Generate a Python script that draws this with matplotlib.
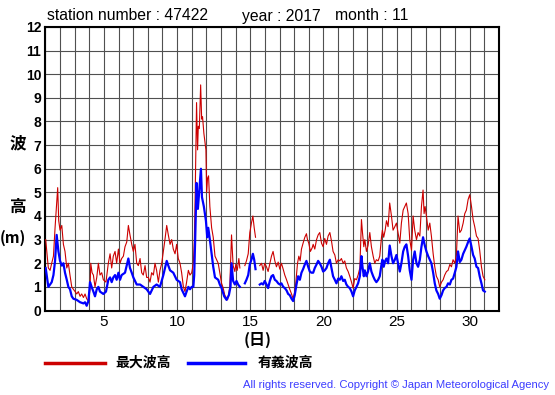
import numpy as np
import matplotlib
matplotlib.use('Agg')
import matplotlib.pyplot as plt

nan = float('nan')

# header info
station = '47422'
year = '2017'
month = '11'

# 最大波高 (max wave height), day of month vs metres; nan = missing data
max_day = [1.02, 1.20, 1.32, 1.43, 1.55, 1.66, 1.77, 1.84, 1.91, 2.00, 2.12, 2.23, 2.34, 2.46,
           2.57, 2.68, 2.80, 2.91, 3.03, 3.14, 3.25, 3.37, 3.48, 3.60, 3.71, 3.82, 3.94, 4.05,
           4.10, 4.19, 4.28, 4.39, 4.51, 4.62, 4.73, 4.85, 4.96, 5.14, 5.30, 5.42, 5.53, 5.64,
           5.76, 5.87, 5.99, 6.10, 6.21, 6.33, 6.44, 6.56, 6.67, 6.78, 6.90, 7.01, 7.12, 7.24,
           7.35, 7.47, 7.58, 7.69, 7.81, 7.92, 8.04, 8.15, 8.26, 8.38, 8.49, 8.60, 8.72, 8.83,
           8.95, 9.06, 9.17, 9.29, 9.40, 9.52, 9.63, 9.74, 9.86, 9.97, 10.08, 10.20, 10.31,
           10.43, 10.54, 10.65, 10.77, 10.88, 11.00, 11.11, 11.18, 11.24, 11.33, 11.40, 11.45,
           11.52, 11.61, 11.68, 11.74, 11.83, 11.93, 11.97, 12.02, 12.08, 12.15, 12.24, 12.36,
           12.47, 12.59, 12.81, 12.92, 13.04, 13.15, 13.26, 13.45, 13.54, 13.60, 13.72, 13.83,
           13.95, 14.01, 14.11, 14.22, 14.29, 14.45, 14.63, 14.74, 14.86, 14.97, 15.08, 15.18,
           15.27, 15.36, 15.50, 15.65, 15.77, 15.88, 15.99, 16.11, 16.22, 16.34, 16.45, 16.56,
           16.68, 16.79, 16.91, 17.02, 17.13, 17.25, 17.36, 17.48, 17.59, 17.70, 17.82, 17.93,
           18.04, 18.11, 18.23, 18.32, 18.41, 18.50, 18.61, 18.73, 18.84, 18.91, 19.00, 19.11,
           19.23, 19.30, 19.41, 19.53, 19.64, 19.75, 19.87, 19.98, 20.09, 20.21, 20.32, 20.44,
           20.55, 20.66, 20.78, 20.89, 21.01, 21.12, 21.23, 21.35, 21.46, 21.57, 21.69, 21.80,
           21.92, 22.03, 22.14, 22.26, 22.37, 22.49, 22.60, 22.67, 22.76, 22.83, 22.94, 23.05,
           23.17, 23.28, 23.40, 23.51, 23.62, 23.74, 23.85, 23.97, 24.03, 24.12, 24.22, 24.31,
           24.42, 24.53, 24.65, 24.76, 24.88, 24.99, 25.10, 25.22, 25.33, 25.45, 25.56, 25.67,
           25.79, 25.90, 26.02, 26.13, 26.24, 26.36, 26.47, 26.59, 26.70, 26.81, 26.88, 26.95,
           27.04, 27.16, 27.27, 27.38, 27.50, 27.61, 27.72, 27.84, 27.95, 28.07, 28.18, 28.29,
           28.41, 28.52, 28.64, 28.75, 28.86, 28.98, 29.09, 29.20, 29.32, 29.43, 29.55, 29.66,
           29.77, 29.89, 30.00, 30.12, 30.23, 30.34, 30.46, 30.57, 30.68, 30.80, 30.91, 31.03]
max_hgt = [3.0, 1.8, 1.7, 2.0, 2.3, 3.5, 4.5, 5.2, 3.8, 3.4, 3.6, 2.8, 2.5, 1.8,
           2.0, 1.5, 1.0, 0.9, 0.8, 0.7, 0.8, 0.6, 0.7, 0.55, 0.7, 0.5, 0.4, 0.9,
           2.0, 1.6, 1.5, 1.0, 1.4, 2.0, 1.5, 1.6, 1.3, 1.2, 2.0, 2.4, 1.8, 2.3,
           2.5, 2.0, 2.6, 2.0, 2.2, 2.3, 2.7, 2.9, 3.6, 3.2, 2.8, 2.5, 2.8, 2.0,
           1.9, 2.2, 1.6, 1.5, 1.9, 1.4, 1.4, 1.2, 1.6, 1.5, 2.0, 1.7, 1.2, 1.7,
           2.0, 2.5, 3.0, 3.6, 3.2, 2.8, 3.0, 2.6, 2.4, 2.8, 2.2, 2.0, 1.6,
           1.0, 0.8, 1.2, 1.7, 1.5, 1.6, 2.0, 3.0, 5.0, 8.8, 6.8, 7.8,
           7.7, 9.55, 8.1, 8.2, 7.5, 7.0, 6.8, 5.0, 5.6, 5.7, 4.4, 3.5,
           3.1, 2.3, 2.0, 1.6, 1.15, 0.95, 0.65, 0.45, 0.75, 1.0, 3.2, 1.9,
           1.65, 1.95, 1.7, 2.2, 1.8, nan, 1.9, 2.1, 2.4, 3.3, 3.7, 4.0,
           3.5, 3.1, nan, 1.9, 2.0, 1.7, 2.0, 1.85, 1.65, 2.0, 2.3, 2.5,
           2.1, 1.85, 2.05, 1.75, 2.0, 1.75, 1.5, 1.3, 1.1, 0.9, 0.7, 0.5,
           0.8, 1.15, 2.0, 2.3, 2.1, 2.6, 2.85, 3.1, 3.25, 3.0, 2.85, 2.5,
           2.65, 2.8, 2.6, 3.0, 3.2, 3.3, 2.85, 2.7, 3.05, 2.8, 3.15, 3.3,
           2.95, 2.5, 2.35, 2.0, 2.15, 2.1, 2.2, 2.0, 2.1, 1.8, 1.65, 1.45,
           1.2, 0.95, 1.35, 1.3, 1.5, 1.8, 3.85, 3.3, 2.7, 3.0, 2.5, 2.75,
           3.3, 2.7, 2.3, 2.0, 2.15, 2.1, 2.3, 3.1, 3.4, 3.1, 3.4, 3.8,
           3.55, 4.55, 4.0, 3.4, 3.55, 3.7, 3.3, 2.85, 3.7, 4.25, 4.4, 4.55,
           4.1, 3.0, 2.55, 4.0, 3.4, 3.0, 3.3, 3.15, 4.4, 5.1, 4.1, 4.4,
           4.0, 3.4, 3.7, 3.15, 2.4, 1.85, 1.45, 1.3, 1.0, 1.2, 1.3, 1.5,
           1.65, 1.7, 1.95, 1.85, 2.15, 2.0, 2.35, 4.0, 3.3, 3.4, 3.7, 4.1,
           4.25, 4.7, 4.9, 4.4, 3.85, 3.55, 3.15, 3.05, 2.55, 1.85, 1.45, 1.3]

# 有義波高 (significant wave height)
sig_day = [1.02, 1.20, 1.32, 1.43, 1.55, 1.66, 1.77, 1.89, 2.00, 2.12, 2.23, 2.34, 2.46, 2.57,
           2.68, 2.80, 2.91, 3.14, 3.37, 3.60, 3.71, 3.82, 3.94, 4.05, 4.16, 4.28, 4.39, 4.51,
           4.62, 4.73, 4.96, 5.14, 5.30, 5.42, 5.53, 5.64, 5.76, 5.87, 5.99, 6.10, 6.21, 6.44,
           6.67, 6.78, 6.90, 7.01, 7.24, 7.47, 7.69, 7.92, 8.15, 8.38, 8.60, 8.83, 9.06, 9.29,
           9.40, 9.52, 9.74, 9.97, 10.20, 10.31, 10.54, 10.65, 10.77, 10.88, 11.00, 11.11,
           11.17, 11.24, 11.33, 11.42, 11.52, 11.63, 11.70, 11.83, 11.97, 12.06, 12.13, 12.24,
           12.36, 12.47, 12.59, 12.81, 12.92, 13.04, 13.22, 13.38, 13.54, 13.65, 13.72, 13.83,
           13.95, 14.06, 14.17, 14.29, 14.45, 14.63, 14.74, 14.86, 14.97, 15.08, 15.18, 15.27,
           15.36, 15.50, 15.65, 15.77, 15.88, 15.99, 16.11, 16.22, 16.34, 16.45, 16.56, 16.68,
           16.79, 16.91, 17.02, 17.13, 17.25, 17.36, 17.48, 17.59, 17.70, 17.82, 17.93, 18.04,
           18.16, 18.27, 18.39, 18.50, 18.61, 18.73, 18.84, 18.96, 19.07, 19.18, 19.30, 19.41,
           19.53, 19.64, 19.75, 19.87, 19.98, 20.09, 20.21, 20.32, 20.44, 20.55, 20.66, 20.78,
           20.89, 21.01, 21.12, 21.23, 21.35, 21.46, 21.57, 21.69, 21.80, 21.92, 22.03, 22.14,
           22.26, 22.37, 22.49, 22.60, 22.67, 22.76, 22.83, 22.94, 23.05, 23.17, 23.28, 23.40,
           23.51, 23.62, 23.74, 23.85, 23.97, 24.03, 24.12, 24.22, 24.31, 24.42, 24.53, 24.65,
           24.76, 24.88, 24.99, 25.10, 25.22, 25.33, 25.45, 25.56, 25.67, 25.79, 25.90, 26.02,
           26.13, 26.24, 26.36, 26.47, 26.59, 26.70, 26.81, 26.93, 27.04, 27.16, 27.27, 27.38,
           27.50, 27.61, 27.72, 27.84, 27.95, 28.07, 28.18, 28.29, 28.41, 28.52, 28.64, 28.75,
           28.86, 28.98, 29.09, 29.20, 29.32, 29.43, 29.55, 29.66, 29.77, 29.89, 30.00, 30.12,
           30.23, 30.34, 30.46, 30.57, 30.68, 30.80, 30.91, 31.03]
sig_hgt = [1.8, 1.0, 1.1, 1.2, 1.5, 2.1, 3.2, 2.5, 2.1, 1.9, 2.0, 1.6, 1.3, 1.0,
           0.9, 0.6, 0.5, 0.45, 0.35, 0.3, 0.35, 0.2, 0.4, 1.2, 1.0, 0.8, 0.6, 0.9,
           1.0, 0.8, 0.7, 0.8, 1.3, 1.4, 1.2, 1.4, 1.5, 1.3, 1.6, 1.3, 1.5, 1.6,
           2.2, 1.8, 1.6, 1.4, 1.1, 1.1, 1.0, 0.9, 0.7, 1.0, 1.1, 1.0, 1.5, 2.1,
           1.9, 1.7, 1.6, 1.3, 1.2, 0.9, 0.6, 0.8, 1.0, 0.9, 1.0, 1.0,
           1.5, 3.1, 5.4, 4.3, 5.1, 6.0, 4.8, 4.4, 3.8, 3.1, 3.5, 3.0,
           2.4, 1.85, 1.4, 1.3, 1.1, 0.95, 0.6, 0.45, 0.65, 1.0, 2.0, 1.25,
           1.1, 1.25, 1.1, 1.0, nan, 1.15, 1.3, 1.5, 1.95, 2.15, 2.4, 2.15,
           1.75, nan, 1.1, 1.15, 1.1, 1.25, 1.1, 0.95, 1.25, 1.45, 1.5, 1.3,
           1.25, 1.15, 1.1, 1.15, 1.0, 0.95, 0.85, 0.7, 0.65, 0.5, 0.4, 0.65,
           1.1, 1.45, 1.3, 1.6, 1.75, 1.95, 2.1, 1.85, 1.65, 1.6, 1.6, 1.8,
           1.95, 2.1, 2.0, 1.85, 1.65, 1.7, 1.8, 2.0, 2.15, 1.8, 1.45, 1.3,
           1.15, 1.35, 1.3, 1.45, 1.25, 1.3, 1.1, 1.0, 0.95, 0.8, 0.6, 0.85,
           1.0, 1.15, 1.45, 2.3, 1.85, 1.45, 1.7, 1.45, 1.65, 2.0, 1.65, 1.45,
           1.3, 1.2, 1.3, 1.45, 1.95, 2.15, 1.85, 2.1, 2.2, 2.0, 2.75, 2.3,
           2.0, 2.15, 2.35, 2.0, 1.65, 2.0, 2.5, 2.7, 2.8, 2.3, 1.7, 1.3,
           2.15, 2.5, 2.0, 1.85, 2.15, 2.7, 3.1, 2.75, 2.5, 2.3, 2.15, 2.0,
           1.6, 1.15, 0.85, 0.7, 0.5, 0.65, 0.85, 0.95, 1.0, 1.15, 1.1, 1.3,
           1.35, 1.6, 1.85, 2.5, 2.05, 2.15, 2.4, 2.55, 2.7, 2.9, 3.05, 2.7,
           2.35, 2.2, 1.85, 1.8, 1.45, 1.15, 0.85, 0.8]

yticks = list(range(0, 13))
xgrid_days = list(range(1, 33))
xlabel_days = [5, 10, 15, 20, 25, 30]

W, H = 555, 395
fig = plt.figure(figsize=(W / 100, H / 100), dpi=100)
ax = fig.add_axes([45.4 / W, 1 - 310.5 / H, (499 - 45.4) / W, (310.5 - 27) / H])

ax.plot(np.array(max_day), np.array(max_hgt), color='#cc0000', lw=0.8, zorder=3)
ax.plot(np.array(sig_day), np.array(sig_hgt), color='#0000ff', lw=1.6, zorder=4)

ax.set_xlim(1, 32)
ax.set_ylim(0, 12)
ax.set_xticks(xgrid_days)
ax.set_xticklabels([str(d) if d in xlabel_days else '' for d in xgrid_days],
                   fontsize=11, family='Liberation Sans')
ax.set_yticks(yticks)
ax.set_yticklabels([str(v) for v in yticks], fontsize=10, fontweight='bold',
                   family='Liberation Sans')
ax.tick_params(length=0, pad=3)
ax.grid(True, color='#505050', lw=0.8)
for s in ax.spines.values():
    s.set_linewidth(1.5)
    s.set_color('black')


def px(x, y):
    return x / W, 1 - y / H


cjk = ['Noto Sans CJK JP', 'DejaVu Sans']

# header line
fig.text(*px(47, 16), f'station number : {station}', fontsize=11.3,
         family='Liberation Sans', va='center')
fig.text(*px(242, 16), f'year : {year}', fontsize=11.3, family='Liberation Sans', va='center')
fig.text(*px(335, 16), f'month : {month}', fontsize=11.3, family='Liberation Sans', va='center')

# vertical axis label
fig.text(*px(18, 143), '波', fontsize=12, fontweight='bold', family=cjk, ha='center', va='center')
fig.text(*px(18, 207), '高', fontsize=12, fontweight='bold', family=cjk, ha='center', va='center')
fig.text(*px(13, 238), '(m)', fontsize=11, fontweight='bold', family=cjk, ha='center', va='center')
fig.text(*px(258, 340), '(日)', fontsize=11.5, fontweight='bold', family=cjk, ha='center', va='center')

# legend
fig.add_artist(plt.Line2D([45 / W, 105 / W], [1 - 363 / H] * 2, color='#cc0000', lw=2.5))
fig.text(*px(115, 363), '最大波高', fontsize=10, fontweight='bold', family=cjk, va='center')
fig.add_artist(plt.Line2D([188 / W, 245 / W], [1 - 363 / H] * 2, color='#0000ff', lw=2.5))
fig.text(*px(258, 363), '有義波高', fontsize=10, fontweight='bold', family=cjk, va='center')

fig.text(*px(549, 385), 'All rights reserved. Copyright © Japan Meteorological Agency',
         fontsize=8.1, color='#3c3cff', family='Liberation Sans', ha='right', va='center')

fig.savefig('out.png', dpi=100)
